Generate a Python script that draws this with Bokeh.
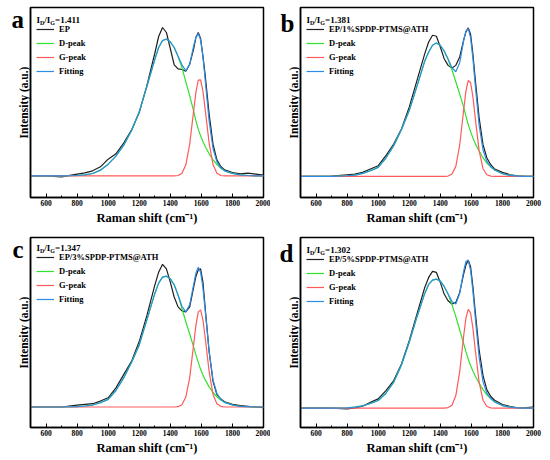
from bokeh.plotting import figure
from bokeh.models import Range1d, FixedTicker, Label, Legend, LegendItem
from bokeh.layouts import column, row
from bokeh.embed import file_html
from bokeh.resources import INLINE

# ---------------- data ----------------
raman_shift = [500, 600, 700, 800, 850, 900, 950, 1000, 1050, 1100, 1150, 1200,
               1250, 1300, 1325, 1350, 1375, 1400, 1425, 1450, 1475, 1500, 1525,
               1550, 1565, 1580, 1595, 1610, 1625, 1650, 1675, 1700, 1725, 1750,
               1800, 1850, 1900, 1950, 2000]

panel_letters = ["a", "b", "c", "d"]
sample_names = ["EP", "EP/1%SPDP-PTMS@ATH", "EP/3%SPDP-PTMS@ATH", "EP/5%SPDP-PTMS@ATH"]
id_ig_ratio = ["1.411", "1.381", "1.347", "1.302"]
x_ticks = [600, 800, 1000, 1200, 1400, 1600, 1800, 2000]
x_minor_ticks = [500, 700, 900, 1100, 1300, 1500, 1700, 1900]

# panel a : EP
ep_a = [0, 0, -3, 5, 9, 15, 27, 50, 66, 98, 137, 190, 272, 367, 418, 445, 430, 382, 333,
        321, 319, 314, 335, 380, 415, 430, 412, 360, 300, 185, 95, 48, 28, 18, 10, 6, 8, 5, 2]
dpeak_a = [0, 0, 0, 1, 3, 7, 17, 35, 59, 92, 135, 192, 269, 349, 385, 406, 410, 402, 385,
           358, 325, 282, 240, 195, 165, 140, 120, 103, 88, 66, 48, 34, 23, 15, 7, 3, 1, 0, 0]
gpeak_a = [0, 0, 0, 0, 0, 0, 0, 0, 0, 0, 0, 0, 0, 0, 0, 0, 0, 0, 0,
           1, 8, 33, 95, 194, 251, 287, 288, 255, 198, 98, 34, 8, 1, 0, 0, 0, 0, 0, 0]
fit_a = [0, 0, 0, 1, 3, 7, 17, 35, 59, 92, 135, 192, 269, 349, 385, 406, 410, 402, 385,
         359, 333, 315, 335, 389, 416, 427, 408, 358, 286, 164, 82, 42, 24, 15, 7, 3, 1, 0, 0]

# panel b : EP/1%SPDP-PTMS@ATH
ep_b = [0, 0, 1, 5, 7, 12, 22, 32, 62, 97, 142, 207, 287, 367, 402, 422, 419, 387, 352,
        332, 324, 332, 357, 407, 432, 444, 425, 365, 290, 175, 95, 55, 35, 22, 12, 5, 2, 0, 0]
dpeak_b = [0, 0, 0, 2, 4, 9, 17, 27, 55, 92, 140, 197, 270, 345, 372, 392, 399, 392, 375,
           350, 318, 283, 246, 208, 180, 155, 134, 115, 98, 76, 56, 40, 28, 19, 8, 3, 1, 0, 0]
gpeak_b = [0, 0, 0, 0, 0, 0, 0, 0, 0, 0, 0, 0, 0, 0, 0, 0, 0, 0, 0,
           1, 7, 30, 94, 197, 255, 287, 280, 238, 175, 77, 23, 5, 1, 0, 0, 0, 0, 0, 0]
fit_b = [0, 0, 0, 2, 4, 9, 17, 27, 55, 92, 140, 197, 270, 345, 372, 392, 399, 392, 375,
         351, 325, 313, 340, 405, 435, 442, 414, 353, 273, 153, 79, 45, 29, 19, 8, 3, 1, 0, 0]

# panel c : EP/3%SPDP-PTMS@ATH
ep_c = [0, 0, 0, 6, 8, 10, 18, 28, 58, 98, 138, 198, 278, 368, 408, 432, 418, 378, 333,
        303, 291, 288, 303, 362, 395, 415, 418, 378, 298, 168, 78, 38, 24, 16, 8, 4, 2, 0, -2]
dpeak_c = [0, 0, 0, 1, 3, 6, 13, 23, 50, 88, 135, 188, 265, 343, 375, 393, 396, 388, 370,
           338, 298, 258, 221, 182, 158, 135, 114, 97, 82, 61, 44, 31, 21, 14, 6, 2, 1, 0, 0]
gpeak_c = [0, 0, 0, 0, 0, 0, 0, 0, 0, 0, 0, 0, 0, 0, 0, 0, 0, 0, 0,
           1, 7, 30, 89, 188, 248, 288, 294, 264, 209, 107, 38, 10, 2, 0, 0, 0, 0, 0, 0]
fit_c = [0, 0, 0, 1, 3, 6, 13, 23, 50, 88, 135, 188, 265, 343, 375, 393, 396, 388, 370,
         339, 305, 288, 310, 370, 406, 423, 408, 361, 291, 168, 82, 41, 23, 14, 6, 2, 1, 0, 0]

# panel d : EP/5%SPDP-PTMS@ATH
ep_d = [0, 0, 0, -2, 1, 6, 18, 28, 53, 83, 133, 203, 283, 363, 393, 411, 408, 378, 343,
        323, 313, 318, 348, 403, 430, 445, 425, 365, 290, 175, 98, 55, 35, 24, 11, 5, 1, 2, 3]
dpeak_d = [0, 0, 0, 1, 3, 7, 14, 23, 45, 78, 130, 198, 275, 345, 372, 385, 388, 382, 366,
           342, 312, 275, 235, 195, 170, 148, 128, 112, 97, 75, 56, 40, 28, 19, 8, 3, 1, 0, 0]
gpeak_d = [0, 0, 0, 0, 0, 0, 0, 0, 0, 0, 0, 0, 0, 0, 0, 0, 0, 0, 0,
           2, 9, 38, 110, 216, 271, 297, 286, 240, 176, 78, 24, 5, 1, 0, 0, 0, 0, 0, 0]
fit_d = [0, 0, 0, 1, 3, 7, 14, 23, 45, 78, 130, 198, 275, 345, 372, 385, 388, 382, 366,
         344, 321, 313, 345, 411, 441, 445, 414, 352, 273, 153, 80, 45, 29, 19, 8, 3, 1, 0, 0]

y_limits = [(-65, 505), (-63, 505), (-62, 513), (-58, 513)]

# ---------------- styling ----------------
FONT = "Liberation Serif"
C_EP = "#1e1e1e"
C_D = "#2fe22f"
C_G = "#ff5a5a"
C_FIT = "#2d8de6"
LW = 1.2


def make_panel(idx, ep, dp, gp, fit, width, height, bl, br, bt, bb, letter_x, letter_dy):
    ylo, yhi = y_limits[idx]
    p = figure(width=width, height=height, x_range=Range1d(500, 2000),
               y_range=Range1d(ylo, yhi), output_backend="svg", toolbar_location=None,
               min_border_left=bl, min_border_right=br, min_border_top=bt,
               min_border_bottom=bb)
    p.xgrid.visible = False
    p.ygrid.visible = False
    p.background_fill_color = "white"
    p.border_fill_color = "white"
    p.outline_line_color = "black"
    p.outline_line_width = 1.5
    p.outline_line_alpha = 1.0

    # x axis
    xa = p.xaxis[0]
    xa.ticker = FixedTicker(ticks=x_ticks, minor_ticks=x_minor_ticks)
    xa.axis_line_color = "black"
    xa.axis_line_width = 1.5
    xa.major_tick_in = 4
    xa.major_tick_out = 0
    xa.minor_tick_in = 2
    xa.minor_tick_out = 0
    xa.major_tick_line_width = 1
    xa.minor_tick_line_width = 1
    xa.major_label_standoff = 2
    xa.major_label_text_font = FONT
    xa.major_label_text_font_style = "bold"
    xa.major_label_text_font_size = "7.5px"
    xa.major_label_text_color = "black"
    xa.axis_label = "Raman shift (cm\u207b\u00b9)"
    xa.axis_label_text_font = FONT
    xa.axis_label_text_font_style = "bold"
    xa.axis_label_text_font_size = "12.5px"
    xa.axis_label_text_color = "black"
    xa.axis_label_standoff = 2

    # y axis (no ticks)
    ya = p.yaxis[0]
    ya.ticker = FixedTicker(ticks=[])
    ya.axis_line_color = "black"
    ya.axis_line_width = 1.5
    ya.major_tick_in = 0
    ya.major_tick_out = 0
    ya.minor_tick_in = 0
    ya.minor_tick_out = 0
    ya.major_label_standoff = 0
    ya.major_label_text_font_size = "0px"
    ya.axis_label = "Intensity (a.u.)"
    ya.axis_label_text_font = FONT
    ya.axis_label_text_font_style = "bold"
    ya.axis_label_text_font_size = "11.5px"
    ya.axis_label_text_color = "black"
    ya.axis_label_standoff = 1

    r_ep = p.line(raman_shift, ep, line_color=C_EP, line_width=LW)
    r_d = p.line(raman_shift, dp, line_color=C_D, line_width=LW)
    r_g = p.line(raman_shift, gp, line_color=C_G, line_width=LW)
    r_fit = p.line(raman_shift, fit, line_color=C_FIT, line_width=LW)

    frame_h = height - bt - bb

    legend = Legend(items=[LegendItem(label=sample_names[idx], renderers=[r_ep]),
                           LegendItem(label="D-peak", renderers=[r_d]),
                           LegendItem(label="G-peak", renderers=[r_g]),
                           LegendItem(label="Fitting", renderers=[r_fit])],
                    location=(6, frame_h - 71), glyph_width=18, glyph_height=14,
                    label_height=14, spacing=0, padding=0, margin=0, label_standoff=5,
                    border_line_alpha=0, background_fill_alpha=0,
                    label_text_font=FONT, label_text_font_style="bold",
                    label_text_font_size="8.5px", label_text_color="black")
    p.add_layout(legend)

    # I_D / I_G ratio text with subscripts
    base = frame_h - 12.5
    parts = [("I", 6.0, 0.0, "9px"), ("D", 9.5, -2.5, "6px"), ("/", 13.8, 0.0, "9px"),
             ("I", 16.3, 0.0, "9px"), ("G", 19.8, -2.5, "6px"),
             ("=" + id_ig_ratio[idx], 24.6, 0.0, "9px")]
    for txt, dx, dy, fs in parts:
        p.add_layout(Label(x=dx, y=base + dy, x_units="screen", y_units="screen",
                           text=txt, text_font=FONT, text_font_style="bold",
                           text_font_size=fs, text_color="black",
                           text_baseline="alphabetic", text_align="left"))

    # panel letter, placed in the left side panel so it is not clipped by the frame
    p.add_layout(Label(x=letter_x, y=frame_h - letter_dy, x_units="screen",
                       y_units="screen", text=panel_letters[idx], text_font=FONT,
                       text_font_style="bold", text_font_size="25px", text_color="black",
                       text_baseline="alphabetic", text_align="left"), "left")
    return p


pa = make_panel(0, ep_a, dpeak_a, gpeak_a, fit_a, 270, 228, 30, 7, 7, 31, 10, 12.4)
pb = make_panel(1, ep_b, dpeak_b, gpeak_b, fit_b, 278, 228, 29, 15, 7, 31, 10, 16.4)
pc = make_panel(2, ep_c, dpeak_c, gpeak_c, fit_c, 270, 230, 30, 7, 7, 31, 9, 14.0)
pd = make_panel(3, ep_d, dpeak_d, gpeak_d, fit_d, 278, 230, 29, 15, 9, 31, 9, 16.0)

layout = column(row(pa, pb), row(pc, pd))

open("out.html", "w").write(file_html(layout, INLINE))
